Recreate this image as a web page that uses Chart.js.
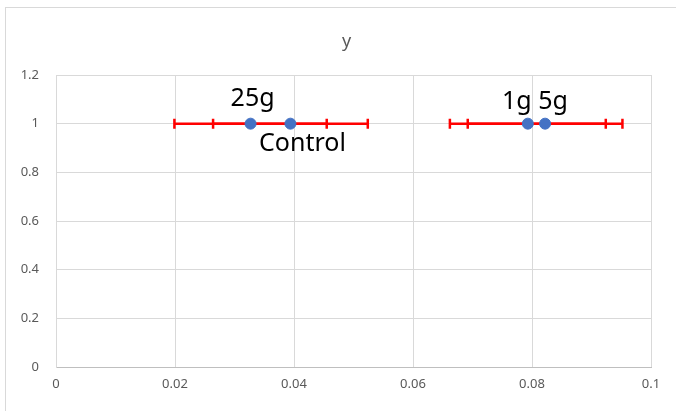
<!DOCTYPE html>
<html>
<head>
<meta charset="utf-8">
<script src="https://cdn.jsdelivr.net/npm/chart.js@4/dist/chart.umd.min.js"></script>
<style>
  html, body { margin: 0; padding: 0; background: #fff; }
  #wrap { position: relative; width: 676px; height: 411px; overflow: hidden; }
  #frame { position: absolute; left: 5px; top: 7px; width: 700px; height: 430px; border: 1px solid #d9d9d9; box-sizing: border-box; }
  #chart { position: absolute; left: 0; top: 0; }
</style>
</head>
<body>
<div id="wrap">
  <div id="frame"></div>
  <canvas id="chart" width="676" height="411"></canvas>
</div>
<script>
// datos
const chartTitle = 'y';
const names = ['25g', 'Control', '1g', '5g'];
const xValues = [0.0327, 0.0394, 0.0793, 0.0822];
const yValues = [1, 1, 1, 1];
const xErrors = [0.0128, 0.0130, 0.0131, 0.0130];
const xTicks = [0, 0.02, 0.04, 0.06, 0.08, 0.1];
const yTicks = [0, 0.2, 0.4, 0.6, 0.8, 1, 1.2];

// desplazamiento de cada etiqueta respecto a su punto (px)
const labelOffsets = [[2, -25], [12, 20], [-11, -22], [8, -22]];

const errorBars = {
  id: 'errorBars',
  beforeDatasetsDraw(chart) {
    const { ctx, scales: { x, y } } = chart;
    ctx.save();
    ctx.strokeStyle = '#ff0000';
    ctx.lineWidth = 2.5;
    xValues.forEach((v, i) => {
      const py = y.getPixelForValue(yValues[i]);
      const x0 = x.getPixelForValue(v - xErrors[i]);
      const x1 = x.getPixelForValue(v + xErrors[i]);
      ctx.beginPath();
      ctx.moveTo(x0, py);
      ctx.lineTo(x1, py);
      ctx.moveTo(x0, py - 5);
      ctx.lineTo(x0, py + 5);
      ctx.moveTo(x1, py - 5);
      ctx.lineTo(x1, py + 5);
      ctx.stroke();
    });
    ctx.restore();
  },
};

const pointLabels = {
  id: 'pointLabels',
  afterDatasetsDraw(chart) {
    const { ctx, chartArea, scales: { x, y } } = chart;
    ctx.save();
    ctx.font = '25px "Noto Sans"';
    ctx.fillStyle = '#000';
    ctx.textAlign = 'center';
    ctx.textBaseline = 'middle';
    names.forEach((n, i) => {
      const px = x.getPixelForValue(xValues[i]) + labelOffsets[i][0];
      const py = y.getPixelForValue(yValues[i]) + labelOffsets[i][1];
      ctx.fillText(n, px, py);
    });
    // titulo
    ctx.font = '18px "Noto Sans"';
    ctx.fillStyle = '#595959';
    ctx.fillText(chartTitle, (chartArea.left + chartArea.right) / 2 - 7, 42);
    ctx.restore();
  },
};

const chart = new Chart(document.getElementById('chart'), {
  type: 'scatter',
  data: {
    datasets: [{
      label: chartTitle,
      data: xValues.map((v, i) => ({ x: v, y: yValues[i] })),
      backgroundColor: '#4472c4',
      borderColor: '#4472c4',
      pointRadius: 5.5,
      pointHoverRadius: 5.5,
    }],
  },
  options: {
    responsive: false,
    animation: false,
    layout: { padding: { top: 75, right: 25, bottom: 0, left: 0 } },
    plugins: {
      legend: { display: false },
      tooltip: { enabled: false },
      title: { display: false },
    },
    scales: {
      x: {
        type: 'linear',
        min: 0,
        max: 0.1,
        afterBuildTicks(scale) { scale.ticks = xTicks.map(v => ({ value: v })); },
        afterFit(scale) { scale.height = 44; },
        grid: { color: '#d9d9d9', drawTicks: false },
        border: { color: '#bfbfbf' },
        ticks: {
          color: '#595959',
          font: { family: 'Noto Sans', size: 13 },
          padding: 9,
          maxRotation: 0,
          callback: v => String(v),
        },
      },
      y: {
        type: 'linear',
        min: 0,
        max: 1.2,
        afterBuildTicks(scale) { scale.ticks = yTicks.map(v => ({ value: v })); },
        afterFit(scale) { scale.width = 56; },
        grid: { color: '#d9d9d9', drawTicks: false },
        border: { color: '#d9d9d9' },
        ticks: {
          color: '#595959',
          font: { family: 'Noto Sans', size: 13 },
          padding: 17,
          callback: v => String(v),
        },
      },
    },
  },
  plugins: [errorBars, pointLabels],
});
</script>
</body>
</html>
